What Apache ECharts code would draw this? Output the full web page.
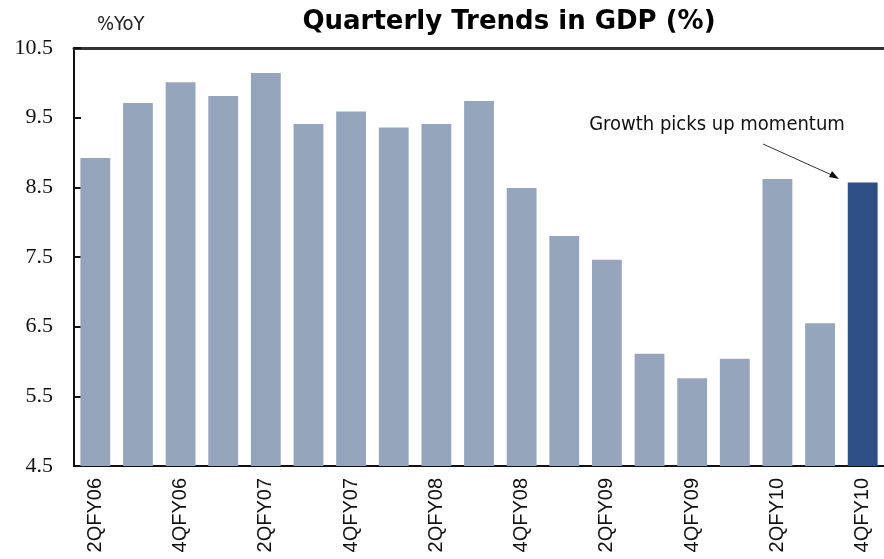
<!DOCTYPE html>
<html>
<head>
<meta charset="utf-8">
<script src="https://cdn.jsdelivr.net/npm/echarts@6/dist/echarts.min.js"></script>
<style>
    html, body { margin: 0; padding: 0; background: #fff; }
    #chart { width: 884px; height: 559px; }
</style>
</head>
<body>
<div id="chart"></div>
<script>
// 季度 GDP 数据
var quarters = ['2QFY06', '3QFY06', '4QFY06', '1QFY07', '2QFY07', '3QFY07', '4QFY07', '1QFY08', '2QFY08', '3QFY08',
    '4QFY08', '1QFY09', '2QFY09', '3QFY09', '4QFY09', '1QFY10', '2QFY10', '3QFY10', '4QFY10'];
var gdpYoY = [8.92, 9.71, 10.01, 9.81, 10.14, 9.41, 9.59, 9.36, 9.41, 9.74,
    8.49, 7.80, 7.46, 6.11, 5.76, 6.04, 8.62, 6.55, 8.57];
var yTicks = { min: 4.5, max: 10.5, step: 1 };

var lightColor = '#97a5bc';
var darkColor = '#2f4e86';

var barData = gdpYoY.map(function (v, i) {
    return {
        value: v,
        itemStyle: { color: i === gdpYoY.length - 1 ? darkColor : lightColor }
    };
});

var chart = echarts.init(document.getElementById('chart'));
var option = {
    animation: false,
    title: {
        text: 'Quarterly Trends in GDP (%)',
        left: 504,
        top: 4,
        textAlign: 'center',
        textStyle: {
            fontFamily: 'DejaVu Sans',
            fontWeight: 'bold',
            fontSize: 26,
            color: '#000'
        }
    },
    grid: {
        left: 74,
        right: 0,
        top: 48,
        bottom: 93
    },
    xAxis: [
        {
            type: 'category',
            data: quarters,
            boundaryGap: true,
            axisLine: { show: true, lineStyle: { color: '#111', width: 2 } },
            axisTick: { show: false },
            axisLabel: {
                interval: 1,
                rotate: 90,
                margin: 12,
                fontFamily: 'Liberation Sans',
                fontSize: 20,
                color: '#111'
            }
        },
        {
            // 顶部的横线
            type: 'category',
            position: 'top',
            data: quarters,
            axisLine: { show: true, lineStyle: { color: '#333', width: 3 } },
            axisTick: { show: false },
            axisLabel: { show: false }
        }
    ],
    yAxis: {
        type: 'value',
        min: yTicks.min,
        max: yTicks.max,
        interval: yTicks.step,
        axisLine: { show: true, lineStyle: { color: '#111', width: 2 } },
        axisTick: { show: true, inside: true, length: 7, lineStyle: { color: '#111', width: 2 } },
        splitLine: { show: false },
        axisLabel: {
            margin: 21,
            fontFamily: 'Liberation Serif',
            fontSize: 22,
            color: '#111',
            formatter: function (v) { return v.toFixed(1); }
        }
    },
    series: [
        {
            type: 'bar',
            data: barData,
            barWidth: '70%'
        }
    ],
    graphic: [
        {
            type: 'text',
            left: 97,
            top: 15,
            style: {
                text: '%YoY',
                fontFamily: 'Liberation Sans Narrow, DejaVu Sans Condensed',
                fontSize: 20,
                fill: '#222'
            }
        },
        {
            type: 'text',
            x: 717,
            y: 125,
            style: {
                text: 'Growth picks up momentum',
                fontFamily: 'Liberation Sans Narrow, DejaVu Sans Condensed',
                fontSize: 20,
                fill: '#111',
                align: 'center',
                verticalAlign: 'middle'
            }
        },
        {
            type: 'line',
            shape: { x1: 763, y1: 144, x2: 834, y2: 176 },
            style: { stroke: '#333', lineWidth: 1 }
        },
        {
            type: 'polygon',
            shape: { points: [[839, 179], [829, 177], [832, 171]] },
            style: { fill: '#111' }
        }
    ]
};
chart.setOption(option);
</script>
</body>
</html>
